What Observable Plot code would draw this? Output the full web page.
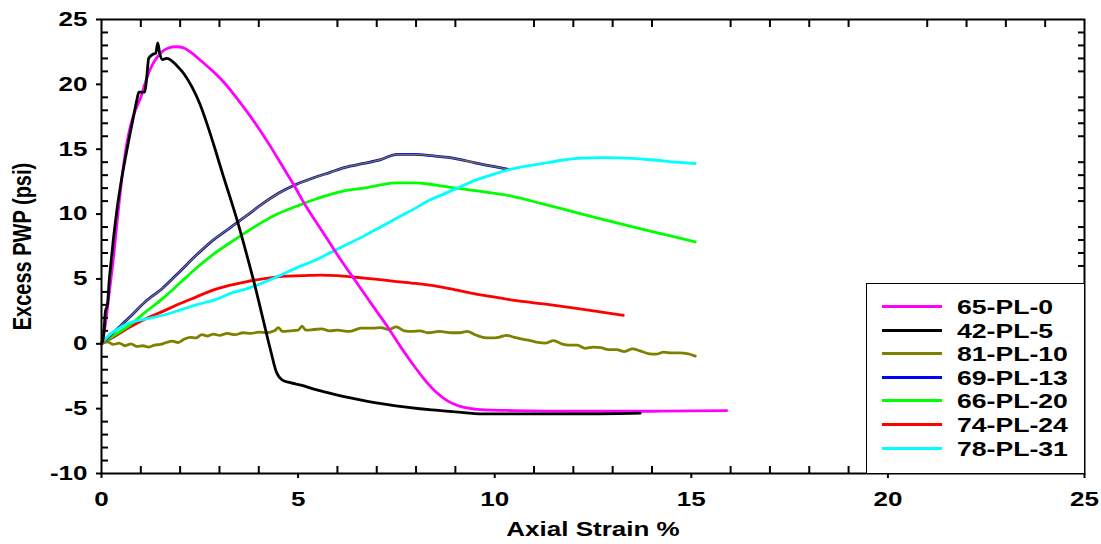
<!DOCTYPE html>
<html>
<head>
<meta charset="utf-8">
<script src="https://cdn.jsdelivr.net/npm/d3@7"></script>
<script src="https://cdn.jsdelivr.net/npm/@observablehq/plot@0.6"></script>
<style>
  body { margin: 0; background: #fff; }
  #wrap { position: relative; width: 1101px; height: 544px; font-family: "Liberation Sans", Arial, sans-serif; }
  #legend { position: absolute; background: #fff; border: 1.5px solid #000; box-sizing: border-box; }
  .row { position: absolute; left: 0; height: 24px; font-weight: bold; font-size: 20px; color: #000; }
  .swatch { position: absolute; left: 15px; width: 60px; height: 3px; top: 10px; }
  .lab { position: absolute; left: 90px; top: 0; line-height: 24px; white-space: nowrap; transform: scaleX(1.33); transform-origin: 0 50%; }
</style>
</head>
<body>
<div id="wrap"></div>
<script>
// ---- Data ----
const seriesNames = ["65-PL-0", "42-PL-5", "81-PL-10", "69-PL-13", "66-PL-20", "74-PL-24", "78-PL-31"];
const seriesColors = ["#ff00ff", "#000000", "#808000", "#0000ff", "#00ff00", "#ff0000", "#00ffff"];

const pl0_x = [0, 0.1, 0.2, 0.3, 0.4, 0.5, 0.6, 0.7, 0.8, 0.9, 1.0, 1.1, 1.2, 1.35, 1.5, 1.7, 1.9, 2.1, 2.3, 2.5, 2.8, 3.1, 3.4, 3.7, 4.0, 4.3, 4.6, 4.9, 5.2, 5.5, 5.8, 6.1, 6.4, 6.7, 7.0, 7.3, 7.6, 7.9, 8.2, 8.5, 8.8, 9.1, 9.4, 9.8, 10.5, 12, 14, 15.9];
const pl0_y = [0, 1.5, 4.0, 6.5, 9.5, 12.3, 14.6, 16.3, 17.5, 18.3, 19.0, 20.0, 20.9, 21.8, 22.4, 22.8, 22.9, 22.8, 22.4, 21.9, 21.1, 20.2, 19.1, 17.9, 16.6, 15.2, 13.7, 12.2, 10.6, 9.2, 7.8, 6.4, 5.1, 3.8, 2.5, 1.2, -0.2, -1.5, -2.7, -3.7, -4.4, -4.8, -5.0, -5.1, -5.15, -5.2, -5.2, -5.15];

const pl5_x = [0, 0.05, 0.1, 0.15, 0.2, 0.25, 0.3, 0.4, 0.5, 0.6, 0.7, 0.8, 0.9, 0.95, 1.1, 1.15, 1.2, 1.3, 1.38, 1.43, 1.48, 1.55, 1.65, 1.75, 1.9, 2.1, 2.3, 2.5, 2.7, 2.9, 3.1, 3.3, 3.5, 3.7, 3.9, 4.1, 4.3, 4.45, 4.6, 4.8, 5.1, 5.4, 5.8, 6.3, 6.8, 7.2, 7.8, 8.4, 9.0, 9.7, 11, 12.5, 13.7];
const pl5_y = [0, 0.5, 2.5, 3.0, 5.0, 6.5, 8.0, 10.5, 12.5, 14.2, 15.8, 17.3, 18.8, 19.4, 19.4, 20.5, 22.0, 22.3, 22.4, 23.2, 22.4, 21.9, 22.0, 21.9, 21.5, 20.8, 19.8, 18.5, 16.8, 14.9, 12.9, 11.0, 9.0, 6.8, 4.5, 2.0, -0.5, -2.2, -2.8, -3.0, -3.2, -3.5, -3.8, -4.15, -4.45, -4.65, -4.9, -5.1, -5.25, -5.4, -5.4, -5.4, -5.35];

const pl10_x = [0, 0.15, 0.3, 0.45, 0.6, 0.75, 0.9, 1.05, 1.2, 1.35, 1.5, 1.65, 1.8, 1.95, 2.1, 2.25, 2.4, 2.55, 2.7, 2.85, 3.0, 3.2, 3.4, 3.6, 3.8, 4.0, 4.2, 4.4, 4.5, 4.6, 4.8, 5.0, 5.1, 5.2, 5.4, 5.6, 5.8, 6.0, 6.3, 6.6, 6.9, 7.1, 7.3, 7.5, 7.7, 7.9, 8.1, 8.3, 8.6, 8.9, 9.1, 9.3, 9.5, 9.7, 9.9, 10.1, 10.3, 10.5, 10.7, 10.9, 11.1, 11.3, 11.5, 11.7, 11.9, 12.1, 12.3, 12.5, 12.7, 12.9, 13.1, 13.3, 13.5, 13.7, 13.9, 14.1, 14.3, 14.5, 14.7, 14.9, 15.1];
const pl10_y = [0, 0.15, -0.05, 0.05, -0.15, 0.0, -0.2, -0.15, -0.25, -0.1, -0.05, 0.1, 0.2, 0.1, 0.35, 0.5, 0.45, 0.7, 0.6, 0.75, 0.65, 0.8, 0.7, 0.85, 0.8, 0.9, 0.85, 1.0, 1.25, 0.95, 1.0, 1.05, 1.35, 1.05, 1.1, 1.15, 1.0, 1.05, 0.95, 1.2, 1.2, 1.25, 1.1, 1.3, 1.0, 0.95, 1.0, 0.85, 0.95, 0.85, 0.85, 0.95, 0.7, 0.5, 0.45, 0.5, 0.65, 0.5, 0.35, 0.25, 0.1, 0.05, 0.25, 0.0, -0.1, -0.1, -0.35, -0.25, -0.3, -0.45, -0.45, -0.6, -0.4, -0.55, -0.75, -0.8, -0.65, -0.7, -0.7, -0.75, -0.95];

const pl13_x = [0, 0.35, 0.7, 1.1, 1.56, 2.0, 2.4, 2.8, 3.25, 3.7, 4.1, 4.5, 4.96, 5.4, 5.8, 6.2, 6.67, 7.1, 7.52, 7.95, 8.4, 8.97, 9.5, 10.0, 10.35];
const pl13_y = [0, 1.0, 2.0, 3.2, 4.3, 5.6, 6.8, 7.9, 8.9, 9.9, 10.8, 11.6, 12.3, 12.8, 13.2, 13.6, 13.9, 14.2, 14.6, 14.6, 14.5, 14.3, 13.95, 13.65, 13.45];

const pl20_x = [0, 0.35, 0.7, 1.1, 1.56, 2.0, 2.4, 2.8, 3.25, 3.7, 4.1, 4.5, 4.96, 5.4, 5.8, 6.2, 6.67, 7.1, 7.5, 7.9, 8.36, 8.67, 9.5, 10.4, 11.2, 12.1, 13.0, 13.8, 14.5, 15.1];
const pl20_y = [0, 0.7, 1.4, 2.4, 3.5, 4.7, 5.8, 6.8, 7.75, 8.65, 9.4, 10.05, 10.6, 11.1, 11.5, 11.8, 12.0, 12.25, 12.4, 12.4, 12.3, 12.15, 11.8, 11.4, 10.8, 10.1, 9.4, 8.8, 8.3, 7.85];

const pl24_x = [0, 0.35, 0.7, 1.1, 1.56, 2.0, 2.4, 2.8, 3.25, 3.7, 4.1, 4.6, 5.1, 5.6, 6.0, 6.4, 6.9, 7.5, 8.0, 8.4, 9.0, 9.5, 10.0, 10.6, 11.3, 11.9, 12.6, 13.27];
const pl24_y = [0, 0.6, 1.25, 1.9, 2.5, 3.1, 3.6, 4.1, 4.5, 4.8, 5.0, 5.2, 5.25, 5.3, 5.25, 5.15, 5.0, 4.8, 4.65, 4.5, 4.15, 3.85, 3.6, 3.3, 3.05, 2.8, 2.5, 2.2];

const pl31_x = [0, 0.2, 0.4, 0.7, 1.1, 1.56, 2.0, 2.4, 2.9, 3.25, 3.7, 4.1, 4.5, 4.96, 5.4, 5.8, 6.2, 6.67, 7.1, 7.52, 7.95, 8.36, 8.67, 9.05, 9.5, 10.0, 10.4, 10.8, 11.23, 11.7, 12.1, 12.8, 13.5, 14.1, 14.6, 15.1];
const pl31_y = [0, 0.7, 1.1, 1.6, 1.9, 2.2, 2.6, 3.0, 3.4, 3.85, 4.25, 4.7, 5.2, 5.85, 6.4, 7.0, 7.6, 8.3, 9.0, 9.7, 10.4, 11.1, 11.5, 12.0, 12.6, 13.1, 13.45, 13.7, 13.9, 14.15, 14.3, 14.35, 14.3, 14.15, 14.0, 13.9];

const xMajorTicks = [0, 5, 10, 15, 20, 25];
const yMajorTicks = [-10, -5, 0, 5, 10, 15, 20, 25];
const xTitle = "Axial Strain %";
const yTitle = "Excess PWP (psi)";

// ---- Build table ----
const xsList = [pl0_x, pl5_x, pl10_x, pl13_x, pl20_x, pl24_x, pl31_x];
const ysList = [pl0_y, pl5_y, pl10_y, pl13_y, pl20_y, pl24_y, pl31_y];
const rows = [];
seriesNames.forEach((name, i) => {
  xsList[i].forEach((x, j) => rows.push({series: name, x, y: ysList[i][j]}));
});
const bySeries = name => rows.filter(d => d.series === name);
const colorOf = name => seriesColors[seriesNames.indexOf(name)];

const xMinor = d3.range(0, 26).filter(d => d % 5 !== 0);
const yMinor = d3.range(-10, 26).filter(d => d % 5 !== 0);

const drawOrder = ["74-PL-24", "66-PL-20", "69-PL-13", "78-PL-31", "81-PL-10", "65-PL-0", "42-PL-5"];
const lineMarks = [];
drawOrder.forEach(name => {
  lineMarks.push(Plot.line(bySeries(name), {x: "x", y: "y", stroke: colorOf(name), strokeWidth: 2.8, strokeLinejoin: "round", curve: "monotone-x"}));
  if (name === "69-PL-13") {
    lineMarks.push(Plot.line(bySeries(name), {x: "x", y: "y", stroke: "#808000", strokeWidth: 1.3, curve: "monotone-x"}));
  }
});

const FS = 20;
const ML = 101;
const YTITLE_X = 22;
const chart = Plot.plot({
  width: 1101,
  height: 544,
  marginLeft: ML,
  marginRight: 17,
  marginTop: 19,
  marginBottom: 71,
  style: {fontFamily: "'Liberation Sans', Arial, sans-serif", fontSize: FS + "px", fontWeight: "bold", background: "#fff", color: "#000"},
  x: {domain: [0, 25]},
  y: {domain: [-10, 25]},
  marks: [
    ...lineMarks,
    Plot.frame({stroke: "#000", strokeWidth: 2}),
    Plot.axisX({ticks: xMajorTicks, tickSize: 5, tickPadding: 13, tickFormat: d => d, label: null, fontSize: FS, fontWeight: "bold", strokeWidth: 2}),
    Plot.axisX({ticks: xMinor, tickSize: -7, tickFormat: () => "", label: null, strokeWidth: 2}),
    Plot.axisX({anchor: "top", ticks: xMinor, tickSize: -7, tickFormat: () => "", label: null, strokeWidth: 2}),
    Plot.axisY({ticks: yMajorTicks, tickSize: 5, tickPadding: 9, tickFormat: d => d, label: null, fontSize: FS, fontWeight: "bold", strokeWidth: 2}),
    Plot.axisY({ticks: yMinor, tickSize: -7, tickFormat: () => "", label: null, strokeWidth: 2}),
    Plot.axisY({anchor: "right", ticks: yMinor, tickSize: -7, tickFormat: () => "", label: null, strokeWidth: 2}),
    Plot.text([xTitle], {frameAnchor: "bottom", dy: 62, text: d => d, fontSize: FS, fontWeight: "bold", fill: "#000"}),
    Plot.text([yTitle], {frameAnchor: "left", textAnchor: "middle", dx: YTITLE_X - ML, rotate: -90, text: d => d, fontSize: FS, fontWeight: "bold", fill: "#000"})
  ]
});

const wrap = document.getElementById("wrap");
wrap.appendChild(chart);

// Horizontal stretch of the lettering, as in the reference.
const STRETCH = 1.3;
const svg = wrap.querySelector("svg");
svg.querySelectorAll("text").forEach(t => {
  const s = t.textContent.trim();
  if (!s) return;
  if (s === yTitle) {
    // the mark group carries the dx translation, so scale about the local anchor x (= marginLeft)
    const g = document.createElementNS("http://www.w3.org/2000/svg", "g");
    g.setAttribute("transform", `translate(${ML},0) scale(${STRETCH},1) translate(${-ML},0)`);
    t.parentNode.insertBefore(g, t);
    g.appendChild(t);
  } else {
    const len = t.getComputedTextLength();
    t.setAttribute("textLength", (len * STRETCH).toFixed(2));
    t.setAttribute("lengthAdjust", "spacingAndGlyphs");
  }
});

// ---- Legend (inside plot area, lower right) ----
const legend = document.createElement("div");
legend.id = "legend";
legend.style.left = "866px";
legend.style.top = "283px";
legend.style.width = (1085 - 866) + "px";
legend.style.height = (474 - 283) + "px";
seriesNames.forEach((name, i) => {
  const row = document.createElement("div");
  row.className = "row";
  row.style.top = (11 + i * 23.6) + "px";
  row.style.width = "100%";
  const sw = document.createElement("div");
  sw.className = "swatch";
  sw.style.background = seriesColors[i];
  const lab = document.createElement("div");
  lab.className = "lab";
  lab.textContent = name;
  row.appendChild(sw);
  row.appendChild(lab);
  legend.appendChild(row);
});
wrap.appendChild(legend);
</script>
</body>
</html>
